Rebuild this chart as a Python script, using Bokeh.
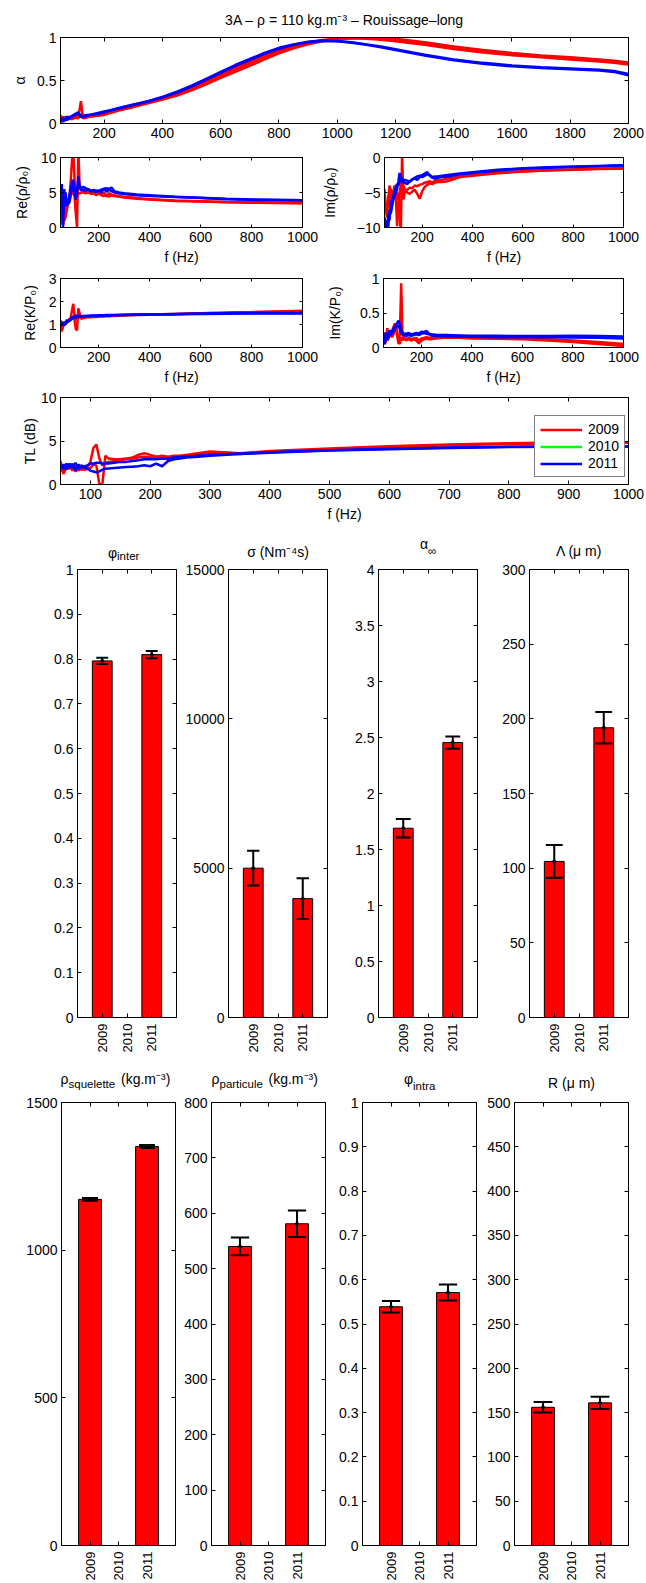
import math
from bokeh.plotting import figure
from bokeh.models import Range1d, FixedTicker, LinearAxis, Legend, LegendItem, Spacer
from bokeh.core.properties import value
from bokeh.layouts import column, row
from bokeh.embed import file_html
from bokeh.resources import INLINE

NAN = float("nan")

# ---------------------------------------------------------------- data
TITLE = "3A \u2013 \u03c1 = 110 kg.m\u207b\u00b3 \u2013 Rouissage\u2013long"
years = ["2009", "2010", "2011"]
year_pos = [1, 2, 3]

f_alpha = [50, 55, 60, 65, 70, 80, 90, 100, 110, 115, 120, 125, 130, 140, 150, 175, 200,
           250, 300, 350, 400, 450, 500, 550, 600, 650, 700, 750, 800, 850, 900, 950, 1000,
           1050, 1100, 1150, 1200, 1300, 1400, 1500, 1600, 1700, 1800, 1900, 1950, 2000]
alpha_2009_a = [0.10, 0.02, 0.05, 0.03, 0.06, 0.05, 0.07, 0.08, 0.07, 0.15, 0.26, 0.12, 0.07,
                0.08, 0.08, 0.09, 0.11, 0.17, 0.21, 0.25, 0.29, 0.34, 0.40, 0.48, 0.555, 0.625,
                0.695, 0.77, 0.84, 0.895, 0.935, 0.965, 0.985, 0.995, 0.995, 0.985, 0.97, 0.93,
                0.88, 0.84, 0.81, 0.78, 0.76, 0.73, 0.72, 0.70]
alpha_2009_b = [0.06, 0.08, 0.03, 0.07, 0.05, 0.08, 0.06, 0.09, 0.08, 0.09, 0.10, 0.09, 0.08,
                0.09, 0.09, 0.10, 0.12, 0.16, 0.20, 0.25, 0.30, 0.355, 0.425, 0.50, 0.575, 0.65,
                0.72, 0.795, 0.865, 0.91, 0.945, 0.97, 0.985, 0.99, 0.985, 0.975, 0.955, 0.915,
                0.865, 0.825, 0.795, 0.77, 0.745, 0.72, 0.705, 0.685]
alpha_2009_c = [0.04, 0.06, 0.08, 0.04, 0.07, 0.06, 0.05, 0.07, 0.06, 0.08, 0.09, 0.08, 0.06,
                0.07, 0.08, 0.09, 0.10, 0.15, 0.19, 0.235, 0.28, 0.325, 0.385, 0.455, 0.53, 0.60,
                0.67, 0.745, 0.815, 0.875, 0.92, 0.955, 0.98, 0.995, 1.0, 0.995, 0.985, 0.945,
                0.895, 0.855, 0.82, 0.79, 0.77, 0.745, 0.73, 0.71]
alpha_2011_a = [0.03, 0.06, 0.02, 0.07, 0.04, 0.06, 0.09, 0.11, 0.13, 0.10, 0.08, 0.07, 0.08,
                0.09, 0.10, 0.11, 0.13, 0.18, 0.22, 0.26, 0.31, 0.37, 0.44, 0.52, 0.60, 0.68,
                0.75, 0.82, 0.88, 0.92, 0.95, 0.965, 0.96, 0.945, 0.92, 0.895, 0.865, 0.80,
                0.745, 0.705, 0.675, 0.655, 0.64, 0.625, 0.61, 0.575]
alpha_2011_b = [0.05, 0.02, 0.06, 0.04, 0.08, 0.07, 0.08, 0.10, 0.12, 0.11, 0.09, 0.08, 0.09,
                0.10, 0.10, 0.12, 0.14, 0.175, 0.215, 0.255, 0.305, 0.36, 0.43, 0.51, 0.59, 0.67,
                0.74, 0.81, 0.87, 0.915, 0.945, 0.96, 0.955, 0.94, 0.915, 0.885, 0.855, 0.79,
                0.735, 0.695, 0.665, 0.645, 0.63, 0.615, 0.60, 0.56]

freq = [50, 55, 60, 65, 70, 75, 80, 85, 90, 95, 100, 105, 110, 115, 120, 125, 130, 140, 150,
        160, 170, 180, 190, 200, 210, 220, 230, 240, 250, 260, 280, 300, 350, 400, 500, 600,
        700, 800, 900, 1000]
re_rho_2009_a = [3.5, 1.0, 0.3, 1.5, 2.5, 3.0, 3.5, 4.5, 6.5, 9.5, 11, 7.0, 4.0, 4.5, 5.0, 4.8,
                 5.0, 5.0, 4.9, 5.0, 4.8, 4.9, 4.6, 4.9, 4.6, 4.5, 4.7, 4.4, 4.6, 4.5, 4.4, 4.3,
                 4.1, 4.0, 3.8, 3.7, 3.6, 3.55, 3.5, 3.45]
re_rho_2009_b = [5.5, 4.0, 2.0, 1.0, 1.5, 2.5, 3.5, 4.0, 4.5, 5.0, 5.0, 4.5, 2.0, 0.0, 11, 6.0,
                 5.5, 5.2, 5.1, 5.3, 5.0, 4.9, 5.2, 5.0, 4.8, 5.0, 4.4, 4.9, 4.7, 4.6, 4.5, 4.4,
                 4.2, 4.05, 3.85, 3.75, 3.65, 3.6, 3.55, 3.5]
re_rho_2011_a = [4.0, 6.2, 0.0, 5.5, 3.0, 4.0, 3.2, 4.5, 5.5, 6.5, 6.8, 5.5, 4.0, 5.0, 7.3, 6.0,
                 5.6, 5.8, 5.6, 5.4, 5.3, 5.2, 5.3, 5.2, 5.4, 5.5, 5.6, 5.5, 5.7, 5.2, 5.0, 4.9,
                 4.7, 4.6, 4.4, 4.25, 4.1, 4.0, 3.95, 3.9]
re_rho_2011_b = [3.0, 5.0, 2.0, 4.0, 5.0, 3.5, 4.0, 3.5, 4.8, 5.5, 6.0, 4.8, 5.2, 5.5, 6.0, 5.8,
                 5.3, 5.4, 5.2, 5.5, 5.1, 5.4, 5.0, 5.3, 5.0, 5.6, 5.1, 5.4, 5.2, 5.0, 4.9, 4.8,
                 4.6, 4.5, 4.35, 4.2, 4.05, 3.95, 3.9, 3.85]
im_rho_2009_a = [-4.5, -7.5, -8.5, -6.0, -4.0, -5.5, -6.5, -5.0, -4.0, -5.5, -9.8, -7.0, -5.0,
                 -4.0, -3.5, -4.0, -4.5, -5.0, -5.2, -4.9, -4.6, -5.2, -5.9, -4.8, -4.2, -3.9,
                 -3.7, -3.8, -3.6, -3.5, -3.5, -3.4, -2.8, -2.6, -2.25, -2.0, -1.85, -1.75,
                 -1.65, -1.6]
im_rho_2009_b = [-6.0, -8.0, -7.0, -5.5, -7.0, -4.5, -5.0, -6.0, -5.5, -4.5, -6.0, -5.0, -8.5,
                 -10.5, 0.5, -6.0, -5.0, -4.6, -4.3, -4.4, -4.0, -4.1, -3.9, -3.8, -3.6, -3.5,
                 -3.4, -3.6, -3.3, -3.2, -3.2, -3.0, -2.7, -2.5, -2.15, -1.95, -1.8, -1.7,
                 -1.6, -1.5]
im_rho_2011_a = [-8.5, -10.5, -9.0, -10.0, -7.5, -8.0, -7.0, -6.0, -5.5, -5.0, -4.5, -3.5,
                 -2.2, -3.0, -3.6, -3.4, -3.2, -3.3, -3.5, -3.1, -3.0, -3.2, -2.8, -2.5, -2.3,
                 -2.1, -2.6, -2.9, -3.0, -2.9, -2.8, -2.7, -2.4, -2.2, -1.85, -1.6, -1.45,
                 -1.35, -1.25, -1.15]
im_rho_2011_b = [-10.5, -9.0, -10.5, -8.0, -9.0, -6.5, -6.0, -5.5, -4.8, -4.2, -3.8, -4.0,
                 -3.5, -2.8, -3.0, -3.3, -3.6, -3.8, -3.4, -3.2, -2.9, -2.7, -2.6, -2.8, -2.6,
                 -2.4, -2.5, -2.8, -2.7, -2.7, -2.6, -2.5, -2.3, -2.1, -1.75, -1.55, -1.4,
                 -1.3, -1.2, -1.1]
re_k_2009_a = [1.0, 0.7, 0.9, 1.1, 1.0, 1.1, 1.2, 1.2, 1.3, 1.6, 1.9, 1.4, 1.2, 1.3, 1.35, 1.3,
               1.3, 1.32, 1.34, 1.34, 1.35, 1.35, 1.36, 1.37, 1.37, 1.38, 1.38, 1.38, 1.39,
               1.39, 1.4, 1.41, 1.42, 1.43, 1.46, 1.49, 1.52, 1.54, 1.57, 1.6]
re_k_2009_b = [1.2, 0.9, 1.1, 1.0, 1.1, 1.2, 1.15, 1.25, 1.2, 1.3, 1.25, 1.2, 0.8, 0.75, 1.7,
               1.5, 1.25, 1.28, 1.3, 1.31, 1.32, 1.33, 1.33, 1.34, 1.35, 1.35, 1.36, 1.36,
               1.37, 1.37, 1.38, 1.39, 1.41, 1.42, 1.45, 1.48, 1.5, 1.53, 1.55, 1.57]
re_k_2011_a = [0.9, 1.1, 1.0, 1.05, 1.1, 1.15, 1.1, 1.2, 1.25, 1.3, 1.35, 1.3, 1.4, 1.35, 1.38,
               1.36, 1.37, 1.37, 1.38, 1.38, 1.39, 1.39, 1.39, 1.4, 1.4, 1.4, 1.41, 1.41, 1.41,
               1.41, 1.42, 1.42, 1.43, 1.44, 1.46, 1.48, 1.49, 1.5, 1.5, 1.5]
re_k_2011_b = [1.05, 0.95, 1.1, 0.95, 1.05, 1.1, 1.2, 1.15, 1.2, 1.25, 1.3, 1.35, 1.3, 1.33,
               1.35, 1.34, 1.35, 1.35, 1.36, 1.36, 1.37, 1.37, 1.37, 1.38, 1.38, 1.38, 1.39,
               1.39, 1.39, 1.4, 1.4, 1.41, 1.42, 1.43, 1.45, 1.46, 1.47, 1.48, 1.48, 1.48]
im_k_2009_a = [0.22, 0.05, 0.1, 0.28, 0.12, 0.2, 0.15, 0.25, 0.3, 0.35, 0.28, 0.15, 0.05, 0.2,
               0.93, 0.2, 0.12, 0.13, 0.12, 0.1, 0.12, 0.1, 0.06, 0.1, 0.12, 0.13, 0.12, 0.12,
               0.13, 0.13, 0.14, 0.14, 0.14, 0.13, 0.125, 0.12, 0.1, 0.08, 0.05, 0.02]
im_k_2009_b = [0.1, 0.2, 0.15, 0.1, 0.25, 0.18, 0.22, 0.15, 0.2, 0.25, 0.3, 0.2, 0.1, 0.05,
               0.15, 0.1, 0.15, 0.1, 0.14, 0.12, 0.13, 0.14, 0.1, 0.13, 0.14, 0.15, 0.14, 0.15,
               0.15, 0.15, 0.15, 0.15, 0.15, 0.15, 0.14, 0.13, 0.12, 0.1, 0.08, 0.05]
im_k_2011_a = [0.05, 0.15, 0.22, 0.1, 0.2, 0.25, 0.18, 0.22, 0.28, 0.3, 0.33, 0.36, 0.39, 0.33,
               0.26, 0.22, 0.2, 0.2, 0.21, 0.19, 0.2, 0.21, 0.2, 0.23, 0.22, 0.24, 0.2, 0.19,
               0.19, 0.18, 0.18, 0.18, 0.175, 0.17, 0.17, 0.165, 0.165, 0.17, 0.165, 0.16]
im_k_2011_b = [0.1, 0.05, 0.18, 0.2, 0.15, 0.2, 0.25, 0.2, 0.24, 0.27, 0.3, 0.32, 0.3, 0.27,
               0.22, 0.19, 0.18, 0.17, 0.18, 0.17, 0.18, 0.19, 0.18, 0.2, 0.21, 0.2, 0.19, 0.18,
               0.17, 0.17, 0.16, 0.16, 0.16, 0.155, 0.15, 0.15, 0.15, 0.145, 0.14, 0.13]
tl_2009_a = [2.7, 1.2, 2.1, 1.8, 2.0, 1.5, 1.9, 1.7, 1.8, 2.0, 2.6, 4.2, 4.6, 3.0, 2.2, 2.5,
             2.6, 2.7, 2.8, 2.9, 3.1, 3.4, 3.6, 3.4, 3.2, 3.3, 3.2, 3.3, 3.3, 3.4, 3.6, 3.8,
             3.6, 3.85, 4.15, 4.4, 4.6, 4.75, 4.85, 4.85]
tl_2009_b = [1.5, 2.2, 1.8, 2.3, 1.6, 2.1, 1.6, 2.0, 1.7, 1.8, 1.9, 2.3, 2.2, 0.0, 0.0, 3.3,
             3.0, 2.9, 2.9, 3.0, 3.0, 3.1, 3.2, 3.1, 3.2, 3.0, 2.9, 3.0, 3.1, 3.2, 3.5, 3.6,
             3.5, 3.75, 4.05, 4.3, 4.5, 4.65, 4.75, 4.8]
tl_2011_a = [2.2, 1.8, 2.4, 1.9, 2.4, 1.6, 2.3, 1.9, 2.1, 2.2, 2.4, 2.4, 2.5, 2.5, 2.4, 2.4,
             2.4, 2.5, 2.6, 2.6, 2.7, 2.8, 2.9, 2.9, 2.9, 3.0, 3.0, 3.1, 3.2, 3.2, 3.3, 3.4,
             3.55, 3.7, 3.95, 4.1, 4.25, 4.35, 4.4, 4.4]
tl_2011_b = [1.9, 2.3, 1.7, 2.4, 1.9, 2.5, 1.8, 2.2, 2.0, 1.8, 1.6, 1.5, 1.4, 1.5, 1.7, 1.8,
             1.85, 1.9, 1.95, 2.0, 2.05, 2.1, 2.2, 2.1, 2.4, 2.1, 2.7, 2.9, 3.0, 3.1, 3.2, 3.3,
             3.5, 3.65, 3.9, 4.05, 4.2, 4.3, 4.35, 4.35]

# bar parameters (2010 not measured)
phi_inter = [0.796, NAN, 0.810];   phi_inter_err = [0.007, NAN, 0.008]
sigma = [5000, NAN, 3980];         sigma_err = [580, NAN, 680]
alpha_inf = [1.69, NAN, 2.455];    alpha_inf_err = [0.083, NAN, 0.055]
Lambda = [104.5, NAN, 194];        Lambda_err = [11, NAN, 10.5]
rho_squelette = [1172, NAN, 1351]; rho_squelette_err = [5, NAN, 5]
rho_particule = [540, NAN, 581];   rho_particule_err = [16, NAN, 24]
phi_intra = [0.539, NAN, 0.571];   phi_intra_err = [0.013, NAN, 0.018]
R_um = [156, NAN, 161];            R_um_err = [6, NAN, 7]

# tick values
ticks_f2000 = [200, 400, 600, 800, 1000, 1200, 1400, 1600, 1800, 2000]
ticks_f1000 = [200, 400, 600, 800, 1000]
ticks_tl_f = [100, 200, 300, 400, 500, 600, 700, 800, 900, 1000]
ticks_alpha = [0, 0.5, 1]
ticks_re_rho = [0, 5, 10]
ticks_im_rho = [-10, -5, 0]
ticks_re_k = [0, 1, 2, 3]
ticks_im_k = [0, 0.5, 1]
ticks_tl = [0, 5, 10]
ticks_unit = [0, 0.1, 0.2, 0.3, 0.4, 0.5, 0.6, 0.7, 0.8, 0.9, 1]
ticks_sigma = [0, 5000, 10000, 15000]
ticks_alpha_inf = [0, 0.5, 1, 1.5, 2, 2.5, 3, 3.5, 4]
ticks_Lambda = [0, 50, 100, 150, 200, 250, 300]
ticks_rho_sq = [0, 500, 1000, 1500]
ticks_rho_part = [0, 100, 200, 300, 400, 500, 600, 700, 800]
ticks_R = [0, 50, 100, 150, 200, 250, 300, 350, 400, 450, 500]

# ---------------------------------------------------------------- style helpers
FONT = "Liberation Sans"
RED, GREEN, BLUE = "#ff0000", "#00ff00", "#0000ff"
LW = 2.5
W = 646
BASE_FIX = 4.5   # vertical correction for the alphabetic baseline of strip texts


def fmt(t):
    return ("%g" % t).replace("-", "\u2212")


def mk_fig(w, h, bl, br, bt, bb, xr, yr):
    p = figure(width=w, height=h, x_range=Range1d(*xr), y_range=Range1d(*yr),
               x_axis_type=None, y_axis_type=None, output_backend="svg",
               toolbar_location=None, min_border_left=bl, min_border_right=br,
               min_border_top=bt, min_border_bottom=bb)
    p.outline_line_color = "black"
    p.outline_line_alpha = 1.0
    p.outline_line_width = 1
    p.background_fill_color = "white"
    p.border_fill_color = "white"
    return p


def add_axes(p, xticks, yticks, tick, xlabels=True, xlabel=None, ylabel=None,
             x_std=4, y_std=8, vertical_x=False):
    specs = [("below", xticks, xlabels), ("left", yticks, True),
             ("above", xticks, False), ("right", yticks, False)]
    for loc, ticks, show in specs:
        ax = LinearAxis(ticker=FixedTicker(ticks=list(ticks)))
        ax.major_tick_in = tick
        ax.major_tick_out = 0
        ax.minor_tick_in = 0
        ax.minor_tick_out = 0
        ax.axis_line_color = "black"
        ax.major_tick_line_color = "black"
        ax.major_label_text_font = FONT
        ax.major_label_text_color = "black"
        if show is False:
            ax.major_label_overrides = {t: "" for t in ticks}
            ax.major_label_text_font_size = "0px"
            ax.major_label_standoff = 0
        else:
            if isinstance(show, list):
                ax.major_label_overrides = dict(zip(ticks, show))
            else:
                ax.major_label_overrides = {t: fmt(t) for t in ticks}
            ax.major_label_text_font_size = "14px"
            ax.major_label_standoff = 4
            if loc == "below" and vertical_x:
                ax.major_label_orientation = math.pi / 2
                ax.major_label_text_font_size = "13px"
                ax.major_label_standoff = 6
        ax.axis_label_text_font = FONT
        ax.axis_label_text_font_size = "14px"
        ax.axis_label_text_font_style = "normal"
        ax.axis_label_text_color = "black"
        if loc == "below" and xlabel:
            ax.axis_label = xlabel
            ax.axis_label_standoff = x_std
        if loc == "left" and ylabel:
            ax.axis_label = ylabel
            ax.axis_label_standoff = y_std
        p.add_layout(ax, loc)


def title_strip(h, items):
    """A borderless strip whose frame spans the whole width; texts in pixel units."""
    s = figure(width=W, height=h, x_range=Range1d(0, W), y_range=Range1d(0, h),
               x_axis_type=None, y_axis_type=None, output_backend="svg",
               toolbar_location=None, min_border=0)
    s.min_border_left = s.min_border_right = s.min_border_top = s.min_border_bottom = 0
    s.outline_line_color = None
    s.background_fill_color = "white"
    s.border_fill_color = "white"
    for x, y, text, size, align in items:
        s.text(x=[x], y=[y + BASE_FIX], text=[text], text_font=value(FONT),
               text_font_size=value(size), text_align=value(align),
               text_baseline=value("alphabetic"), text_color="black")
    return s


def line_panel(w, h, bl, br, bt, bb, xr, yr, xticks, yticks, tick, xs, reds, blues,
               xlabel=None, ylabel=None, shift=0, y_std=8):
    """shift: blank space kept left of the figure (moves the y-axis title right)."""
    p = mk_fig(w - shift, h, bl - shift, br, bt, bb, xr, yr)
    add_axes(p, xticks, yticks, tick, xlabel=xlabel, ylabel=ylabel, y_std=y_std)
    rr = [p.line(xs, ys, line_color=RED, line_width=LW) for ys in reds]
    bb_ = [p.line(xs, ys, line_color=BLUE, line_width=LW) for ys in blues]
    item = row(Spacer(width=shift, height=h), p) if shift else p
    return item, p, rr, bb_


def bar_panel(w, h, bl, br, bt, bb, ymax, yticks, vals, errs, cap):
    p = mk_fig(w, h, bl, br, bt, bb, (0, 4), (0, ymax))
    add_axes(p, year_pos, yticks, 4, xlabels=years, vertical_x=True)
    p.vbar(x=year_pos, top=vals, bottom=0, width=0.8, fill_color=RED, line_color="black",
           line_width=1)
    lo = [v - e for v, e in zip(vals, errs)]
    hi = [v + e for v, e in zip(vals, errs)]
    p.segment(x0=year_pos, y0=lo, x1=year_pos, y1=hi, line_color="black", line_width=2)
    for ends in (lo, hi):
        p.segment(x0=[x - cap for x in year_pos], y0=ends,
                  x1=[x + cap for x in year_pos], y1=ends, line_color="black", line_width=2)
    p.scatter(x=year_pos, y=vals, size=3, color="black")
    return p


def bar_row(widths, lefts, frame_w, h, bt, bb, specs, strip_h):
    figs, items, x0 = [], [], 0
    for w, bl, (ymax, yt, vals, errs, cap, parts) in zip(widths, lefts, specs):
        figs.append(bar_panel(w, h, bl, w - bl - frame_w, bt, bb, ymax, yt, vals, errs, cap))
        cx = x0 + bl + frame_w / 2.0
        for text, size, align, dx, dy in parts:
            items.append((cx + dx, dy - bt, text, size, align))
        x0 += w
    return column(title_strip(strip_h, items), row(*figs))


# ---------------------------------------------------------------- row A: absorption
strip_a = title_strip(29, [(60 + 568 / 2.0, 5, TITLE, "14px", "center")])
item_alpha, p_alpha, _, _ = line_panel(W, 121, 60, 18, 8, 27, (50, 2000), (0, 1),
                                       ticks_f2000, ticks_alpha, 4, f_alpha,
                                       [alpha_2009_a, alpha_2009_b, alpha_2009_c],
                                       [alpha_2011_a, alpha_2011_b], ylabel="\u03b1",
                                       shift=9, y_std=6)

# ---------------------------------------------------------------- rows B, C
HZ = "f (Hz)"
item_re_rho, _, _, _ = line_panel(318, 120, 60, 16, 7, 43, (50, 1000), (0, 10), ticks_f1000,
                                  ticks_re_rho, 3, freq, [re_rho_2009_a, re_rho_2009_b],
                                  [re_rho_2011_a, re_rho_2011_b], xlabel=HZ,
                                  ylabel="Re(\u03c1/\u03c1\u2080)", shift=7)
item_im_rho, _, _, _ = line_panel(328, 120, 65, 23, 7, 43, (50, 1000), (-10, 0), ticks_f1000,
                                  ticks_im_rho, 3, freq, [im_rho_2009_a, im_rho_2009_b],
                                  [im_rho_2011_a, im_rho_2011_b], xlabel=HZ,
                                  ylabel="Im(\u03c1/\u03c1\u2080)", y_std=16)
item_re_k, _, _, _ = line_panel(320, 120, 60, 18, 8, 43, (50, 1000), (0, 3), ticks_f1000,
                                ticks_re_k, 3, freq, [re_k_2009_a, re_k_2009_b],
                                [re_k_2011_a, re_k_2011_b], xlabel=HZ,
                                ylabel="Re(K/P\u2080)", shift=12)
item_im_k, _, _, _ = line_panel(326, 120, 63, 23, 8, 43, (50, 1000), (0, 1), ticks_f1000,
                                ticks_im_k, 3, freq, [im_k_2009_a, im_k_2009_b],
                                [im_k_2011_a, im_k_2011_b], xlabel=HZ,
                                ylabel="Im(K/P\u2080)", y_std=14)

# ---------------------------------------------------------------- row D: TL
item_tl, p_tl, reds_tl, blues_tl = line_panel(W, 142, 60, 18, 7, 48, (50, 1000), (0, 10),
                                              ticks_tl_f, ticks_tl, 4, freq,
                                              [tl_2009_a, tl_2009_b], [tl_2011_a, tl_2011_b],
                                              xlabel=HZ, ylabel="TL (dB)", shift=13, y_std=0)
r10 = p_tl.line(x=[NAN], y=[NAN], line_color=GREEN, line_width=LW)
legend = Legend(items=[LegendItem(label=years[0], renderers=[reds_tl[0]]),
                       LegendItem(label=years[1], renderers=[r10]),
                       LegendItem(label=years[2], renderers=[blues_tl[0]])],
                location=(474, 7), orientation="vertical")
legend.border_line_color = "black"
legend.border_line_width = 1
legend.background_fill_color = "white"
legend.background_fill_alpha = 1.0
legend.label_text_font = FONT
legend.label_text_font_size = "14px"
legend.label_text_color = "black"
legend.glyph_width = 42
legend.glyph_height = 15
legend.label_height = 15
legend.label_standoff = 6
legend.spacing = 1
legend.padding = 5
legend.margin = 0
p_tl.add_layout(legend)

# ---------------------------------------------------------------- row E: bars
row_e = bar_row([180, 161, 148, 157], [77, 48, 37, 40], 99, 506, 8, 50, [
    (1, ticks_unit, phi_inter, phi_inter_err, 0.24,
     [("\u03c6", "14px", "right", -10, 12), ("inter", "11.5px", "left", -10, 9)]),
    (15000, ticks_sigma, sigma, sigma_err, 0.25,
     [("\u03c3 (Nm\u207b\u2074s)", "14px", "center", 0, 13)]),
    (4, ticks_alpha_inf, alpha_inf, alpha_inf_err, 0.3,
     [("\u03b1", "14px", "right", 0, 21), ("\u221e", "11.5px", "left", 0, 14)]),
    (300, ticks_Lambda, Lambda, Lambda_err, 0.34,
     [("\u039b (\u03bc m)", "14px", "center", 0, 14)]),
], 29)

# ---------------------------------------------------------------- row F: bars
row_f = bar_row([179, 152, 151, 164], [61, 32, 31, 32], 114, 491, 10, 37, [
    (1500, ticks_rho_sq, rho_squelette, rho_squelette_err, 0.28,
     [("\u03c1", "14px", "right", -50, 19), ("squelette", "11.5px", "left", -50, 14),
      ("(kg.m\u207b\u00b3)", "14px", "left", 2.5, 19)]),
    (800, ticks_rho_part, rho_particule, rho_particule_err, 0.32,
     [("\u03c1", "14px", "right", -49, 19), ("particule", "11.5px", "left", -49, 14),
      ("(kg.m\u207b\u00b3)", "14px", "left", 0, 19)]),
    (1, ticks_unit, phi_intra, phi_intra_err, 0.32,
     [("\u03c6", "14px", "right", -6.5, 19), ("intra", "11.5px", "left", -6.5, 12)]),
    (500, ticks_R, R_um, R_um_err, 0.33,
     [("R (\u03bc m)", "14px", "center", 0, 15)]),
], 25)

layout = column(strip_a, item_alpha, row(item_re_rho, item_im_rho), row(item_re_k, item_im_k),
                item_tl, row_e, row_f)

with open("out.html", "w") as fh:
    fh.write(file_html(layout, INLINE))
